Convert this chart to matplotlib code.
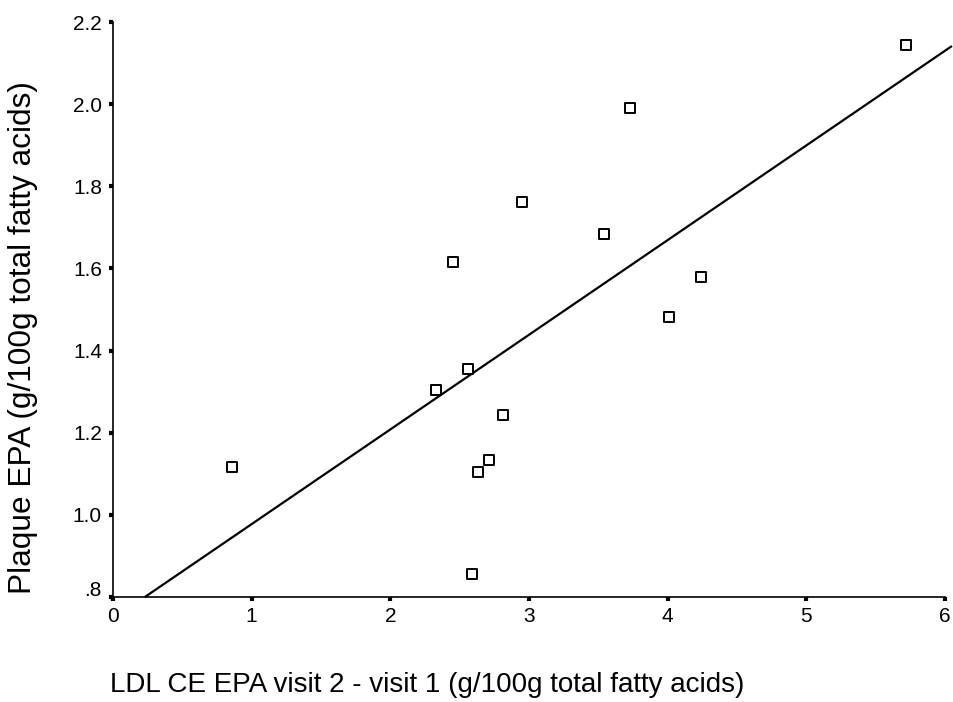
import matplotlib
matplotlib.use("Agg")
import matplotlib.pyplot as plt
from matplotlib.ticker import FixedLocator, FixedFormatter
from matplotlib.transforms import ScaledTranslation

plt.rcParams['font.family'] = ['Liberation Sans', 'DejaVu Sans']

# data
ldl_ce_epa_change = [0.86, 2.33, 2.45, 2.56, 2.59, 2.63, 2.71, 2.81, 2.95, 3.54, 3.73, 4.01, 4.24, 5.72]
plaque_epa = [1.117, 1.304, 1.616, 1.355, 0.856, 1.105, 1.133, 1.244, 1.762, 1.683, 1.99, 1.482, 1.579, 2.145]

fit_intercept = 0.747
fit_slope = 0.2305
fit_x_range = [0.23, 6.05]

x_ticks = [0, 1, 2, 3, 4, 5, 6]
x_tick_labels = ['0', '1', '2', '3', '4', '5', '6']
y_ticks = [0.8, 1.0, 1.2, 1.4, 1.6, 1.8, 2.0, 2.2]
y_tick_labels = ['.8', '1.0', '1.2', '1.4', '1.6', '1.8', '2.0', '2.2']

fig = plt.figure(figsize=(9.54, 7.02), dpi=100)
ax = fig.add_axes([113/954, 105/702, 832/954, 575/702])

fit_y = [fit_intercept + fit_slope * x for x in fit_x_range]
ax.plot(fit_x_range, fit_y, color='black', lw=1.6, clip_on=False, solid_capstyle='butt')
ax.scatter(ldl_ce_epa_change, plaque_epa, marker='s', s=42, facecolors='white',
           edgecolors='black', linewidths=1.4, zorder=3, clip_on=False)

ax.set_xlim(0, 6)
ax.set_ylim(0.8, 2.2)
ax.xaxis.set_major_locator(FixedLocator(x_ticks))
ax.xaxis.set_major_formatter(FixedFormatter(x_tick_labels))
ax.yaxis.set_major_locator(FixedLocator(y_ticks))
ax.yaxis.set_major_formatter(FixedFormatter(y_tick_labels))

for s in ['top', 'right']:
    ax.spines[s].set_visible(False)
for s in ['left', 'bottom']:
    ax.spines[s].set_linewidth(1.2)

ax.tick_params(axis='both', direction='out', length=3, width=3, labelsize=15)
ax.tick_params(axis='x', pad=4)
ax.tick_params(axis='y', pad=5)

fig.canvas.draw()
# the ".8" label sits a little above its tick in the reference
lbl = ax.get_yticklabels()[0]
lbl.set_transform(lbl.get_transform() + ScaledTranslation(0, 8/100, fig.dpi_scale_trans))

fig.text(110/954, 1 - 685/702, 'LDL CE EPA visit 2 - visit 1 (g/100g total fatty acids)',
         ha='left', va='center', fontsize=20)
fig.text(23/954, 1 - 338/702, 'Plaque EPA (g/100g total fatty acids)',
         ha='center', va='center', rotation=90, fontsize=22.8)

fig.savefig('out.png', dpi=100)
